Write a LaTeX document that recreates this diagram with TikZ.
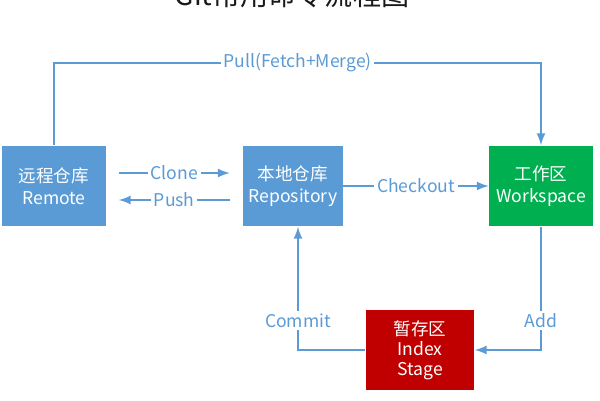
\documentclass[tikz,border=0pt]{standalone}
\usepackage{fontspec}
\setmainfont{Noto Sans CJK SC}
\usetikzlibrary{arrows}
\usepackage{xcolor}
\definecolor{gitblue}{RGB}{91,155,213}
\definecolor{gitgreen}{RGB}{0,176,80}
\definecolor{gitred}{RGB}{192,0,0}

\begin{document}
\begin{tikzpicture}[x=0.02cm, y=-0.02cm,
        box/.style={minimum width=2.1cm, minimum height=1.62cm, text=white,
            align=center, font=\fontsize{10}{12.5}\selectfont, inner sep=0pt},
        flow/.style={gitblue, line width=1.3pt},
        lbl/.style={fill=white, text=gitblue, font=\fontsize{10}{12}\selectfont, inner sep=1.5pt}]
        \useasboundingbox (0,0) rectangle (600,400);

        \coordinate (R) at (54,186);
        \coordinate (L) at (293,186);
        \coordinate (W) at (541,186);
        \coordinate (S) at (420,350);

        \node[gray!20!black, font=\fontsize{16}{18}\selectfont] (title) at (292,-5) {Git常用命令流程图};

        \node[box, fill=gitblue] (remote) at (R) {远程仓库\\Remote};
        \node[box, fill=gitblue, minimum width=2cm] (repo) at (L) {本地仓库\\Repository};
        \node[box, fill=gitgreen, minimum width=2.08cm] (work) at (W) {工作区\\Workspace};
        \node[box, fill=gitred, minimum width=2.18cm, font=\fontsize{10}{11.5}\selectfont] (stage) at (S) {暂存区\\Index\\Stage};

        \coordinate (P1) at (54,63);
        \coordinate (P2) at (541,63);

        \draw[flow, -latex] (remote.north) -- (P1) -- node[lbl] {Pull(Fetch+Merge)} (P2) -- (work.north);
        \draw[flow, -latex] ([xshift=0.24cm,yshift=0.26cm]remote.east) -- node[lbl] {Clone} ([xshift=-0.26cm,yshift=0.26cm]repo.west);
        \draw[flow, -latex] ([xshift=-0.26cm,yshift=-0.28cm]repo.west) -- node[lbl] {Push} ([xshift=0.24cm,yshift=-0.28cm]remote.east);
        \draw[flow, -latex] (repo.east) -- node[lbl] {Checkout} (work.west);
        \draw[flow, -latex] (work.south) |- node[lbl, pos=0.38] {Add} (stage.east);
        \draw[flow, -latex] (stage.west) -| node[lbl, pos=0.62] {Commit} ([xshift=0.1cm]repo.south);
    \end{tikzpicture}
\end{document}
